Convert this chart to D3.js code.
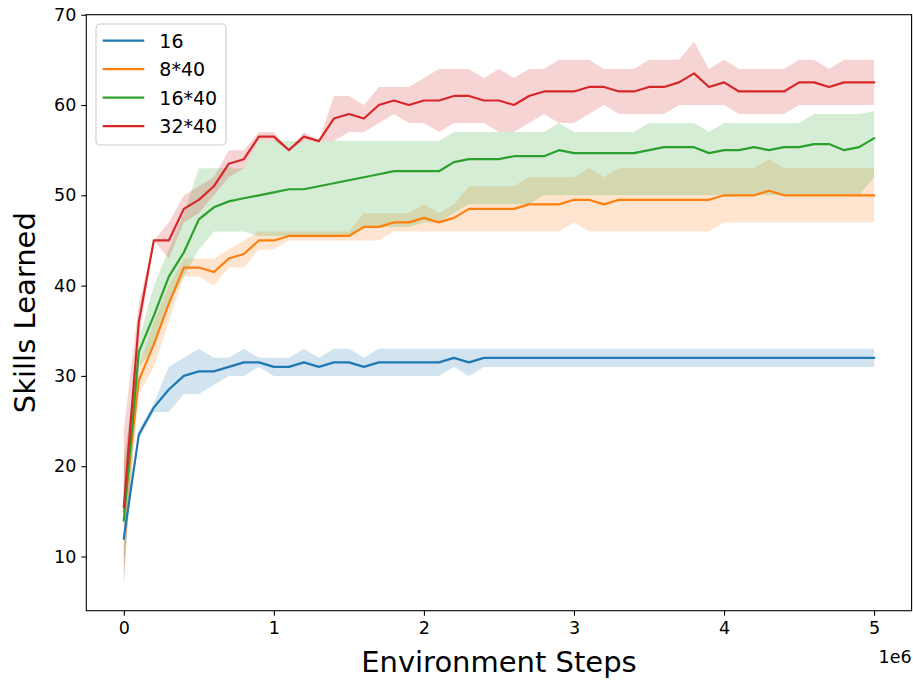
<!DOCTYPE html>
<html>
<head>
<meta charset="utf-8">
<script src="https://cdn.jsdelivr.net/npm/d3@7"></script>
<style>
  html, body { margin: 0; padding: 0; background: #fff; }
  svg { display: block; font-family: "DejaVu Sans", sans-serif; }
</style>
</head>
<body>
<svg id="chart" width="913" height="681"></svg>
<script>
// Environment steps (in millions, shown with a 1e6 offset)
const steps = [0, 0.1, 0.2, 0.3, 0.4, 0.5, 0.6, 0.7, 0.8, 0.9,
  1.0, 1.1, 1.2, 1.3, 1.4, 1.5, 1.6, 1.7, 1.8, 1.9,
  2.0, 2.1, 2.2, 2.3, 2.4, 2.5, 2.6, 2.7, 2.8, 2.9,
  3.0, 3.1, 3.2, 3.3, 3.4, 3.5, 3.6, 3.7, 3.8, 3.9,
  4.0, 4.1, 4.2, 4.3, 4.4, 4.5, 4.6, 4.7, 4.8, 4.9, 5.0];

const seriesNames = ["16", "8*40", "16*40", "32*40"];
const seriesColors = ["#1f77b4", "#ff7f0e", "#2ca02c", "#d62728"];

// "16"
const mean16 = [12, 23.5, 26.5, 28.5, 30, 30.5, 30.5, 31, 31.5, 31.5,
  31, 31, 31.5, 31, 31.5, 31.5, 31, 31.5, 31.5, 31.5,
  31.5, 31.5, 32, 31.5, 32, 32, 32, 32, 32, 32,
  32, 32, 32, 32, 32, 32, 32, 32, 32, 32,
  32, 32, 32, 32, 32, 32, 32, 32, 32, 32, 32];
const low16 = [12, 23, 26, 26, 28, 28, 29, 30, 30, 31,
  30, 30, 30, 30, 30, 30, 30, 30, 30, 30,
  30, 30, 31, 30, 31, 31, 31, 31, 31, 31,
  31, 31, 31, 31, 31, 31, 31, 31, 31, 31,
  31, 31, 31, 31, 31, 31, 31, 31, 31, 31, 31];
const high16 = [12, 24, 27, 31, 32, 33, 32, 32, 33, 32,
  32, 32, 33, 32, 33, 33, 32, 33, 33, 33,
  33, 33, 33, 33, 33, 33, 33, 33, 33, 33,
  33, 33, 33, 33, 33, 33, 33, 33, 33, 33,
  33, 33, 33, 33, 33, 33, 33, 33, 33, 33, 33];

// "8*40"
const mean8x40 = [15, 29.5, 33.5, 38, 42, 42, 41.5, 43, 43.5, 45,
  45, 45.5, 45.5, 45.5, 45.5, 45.5, 46.5, 46.5, 47, 47,
  47.5, 47, 47.5, 48.5, 48.5, 48.5, 48.5, 49, 49, 49,
  49.5, 49.5, 49, 49.5, 49.5, 49.5, 49.5, 49.5, 49.5, 49.5,
  50, 50, 50, 50.5, 50, 50, 50, 50, 50, 50, 50];
const low8x40 = [9, 28, 31, 36, 41, 41, 40, 42, 42, 44,
  44, 45, 45, 45, 45, 45, 45, 45, 46, 46,
  46, 46, 46, 46, 46, 46, 46, 46, 46, 46,
  47, 46, 46, 46, 46, 46, 46, 46, 46, 46,
  47, 47, 47, 47, 47, 47, 47, 47, 47, 47, 47];
const high8x40 = [21, 31, 36, 40, 43, 43, 43, 44, 45, 46,
  46, 46, 46, 46, 46, 46, 48, 48, 48, 48,
  49, 48, 49, 51, 51, 51, 51, 52, 52, 52,
  52, 53, 52, 53, 53, 53, 53, 53, 53, 53,
  53, 53, 53, 54, 53, 53, 53, 53, 53, 53, 53];

// "16*40"
const mean16x40 = [14, 32.67, 36.67, 41, 43.67, 47.33, 48.67, 49.33, 49.67, 50,
  50.33, 50.67, 50.67, 51, 51.33, 51.67, 52, 52.33, 52.67, 52.67,
  52.67, 52.67, 53.67, 54, 54, 54, 54.33, 54.33, 54.33, 55,
  54.67, 54.67, 54.67, 54.67, 54.67, 55, 55.33, 55.33, 55.33, 54.67,
  55, 55, 55.33, 55, 55.33, 55.33, 55.67, 55.67, 55, 55.33, 56.33];
const low16x40 = [7, 31, 33, 38, 41, 44, 46, 46, 46, 45.5,
  45.5, 45.5, 45.5, 45.5, 45.5, 45.5, 46.5, 46.5, 46.5, 46.5,
  47, 47, 48, 49, 49, 49, 49, 49, 50, 50,
  50, 50, 50, 50, 50, 50, 50, 50, 50, 50,
  50, 50, 50, 50, 50, 50, 50, 50, 50, 50, 52];
const high16x40 = [20, 34, 40, 44, 48, 53, 53, 53, 53, 56,
  56, 56, 56, 56, 56, 56, 56, 56, 56, 56,
  56, 56, 57, 57, 57, 57, 57, 57, 57, 58,
  57, 57, 57, 57, 57, 58, 58, 58, 58, 57,
  58, 58, 58, 58, 58, 58, 59, 59, 59, 59, 59.3];

// "32*40"
const mean32x40 = [15.5, 36, 45, 45, 48.5, 49.5, 51, 53.5, 54, 56.5,
  56.5, 55, 56.5, 56, 58.5, 59, 58.5, 60, 60.5, 60,
  60.5, 60.5, 61, 61, 60.5, 60.5, 60, 61, 61.5, 61.5,
  61.5, 62, 62, 61.5, 61.5, 62, 62, 62.5, 63.5, 62,
  62.5, 61.5, 61.5, 61.5, 61.5, 62.5, 62.5, 62, 62.5, 62.5, 62.5];
const low32x40 = [7, 34, 45, 43, 47, 48, 50, 52, 53, 56,
  56, 55, 56, 56, 56, 57, 57, 58, 59, 58,
  58, 57, 58, 58, 58, 57, 57, 58, 59, 58,
  58, 59, 60, 59, 59, 59, 59, 60, 60, 60,
  60, 59, 59, 59, 59, 60, 60, 60, 60, 60, 60];
const high32x40 = [24, 38, 45, 47, 50, 51, 52, 55, 55, 57,
  57, 55, 57, 56, 61, 61, 60, 62, 62, 62,
  63, 64, 64, 64, 63, 64, 63, 64, 64, 65,
  65, 65, 64, 64, 64, 65, 65, 65, 67, 64,
  65, 64, 64, 64, 64, 65, 65, 64, 65, 65, 65];

const xTicks = [0, 1, 2, 3, 4, 5];
const yTicks = [10, 20, 30, 40, 50, 60, 70];
const xLabel = "Environment Steps";
const yLabel = "Skills Learned";
const xOffsetLabel = "1e6";

const series = [
  { name: seriesNames[0], color: seriesColors[0], mean: mean16, low: low16, high: high16 },
  { name: seriesNames[1], color: seriesColors[1], mean: mean8x40, low: low8x40, high: high8x40 },
  { name: seriesNames[2], color: seriesColors[2], mean: mean16x40, low: low16x40, high: high16x40 },
  { name: seriesNames[3], color: seriesColors[3], mean: mean32x40, low: low32x40, high: high32x40 }
];

// Plot geometry
const plot = { left: 86.3, right: 911.6, top: 14.7, bottom: 610.7 };

const x = d3.scaleLinear().domain([-0.25, 5.25]).range([plot.left, plot.right]);
const y = d3.scaleLinear().domain([4, 70]).range([plot.bottom, plot.top]);

const svg = d3.select("#chart");

svg.append("defs").append("clipPath").attr("id", "plot-clip")
  .append("rect")
  .attr("x", plot.left).attr("y", plot.top)
  .attr("width", plot.right - plot.left).attr("height", plot.bottom - plot.top);

const plotArea = svg.append("g").attr("clip-path", "url(#plot-clip)");

// Shaded ranges first, then all lines above them
const area = d3.area()
  .x((d, i) => x(steps[i]))
  .y0(d => y(d[0]))
  .y1(d => y(d[1]));

series.forEach(s => {
  const pts = s.low.map((lo, i) => [lo, s.high[i]]);
  plotArea.append("path")
    .datum(pts)
    .attr("d", area)
    .attr("fill", s.color)
    .attr("fill-opacity", 0.2)
    .attr("stroke", "none");
});

const line = d3.line()
  .x((d, i) => x(steps[i]))
  .y(d => y(d));

series.forEach(s => {
  plotArea.append("path")
    .datum(s.mean)
    .attr("d", line)
    .attr("fill", "none")
    .attr("stroke", s.color)
    .attr("stroke-width", 2.2)
    .attr("stroke-linejoin", "round")
    .attr("stroke-linecap", "square");
});

// Axes
const tickFont = 17.5;

const xAxis = d3.axisBottom(x)
  .tickValues(xTicks)
  .tickFormat(d3.format("d"))
  .tickSize(5)
  .tickPadding(6);

const xg = svg.append("g")
  .attr("transform", `translate(0,${plot.bottom})`)
  .call(xAxis);
xg.select(".domain").remove();
xg.selectAll(".tick line").attr("stroke", "#000").attr("stroke-width", 1.1);
xg.selectAll(".tick text")
  .attr("fill", "#000")
  .style("font-size", tickFont + "px")
  .style("font-family", "DejaVu Sans, sans-serif");

const yAxis = d3.axisLeft(y)
  .tickValues(yTicks)
  .tickFormat(d3.format("d"))
  .tickSize(5)
  .tickPadding(5);

const yg = svg.append("g")
  .attr("transform", `translate(${plot.left},0)`)
  .call(yAxis);
yg.select(".domain").remove();
yg.selectAll(".tick line").attr("stroke", "#000").attr("stroke-width", 1.1);
yg.selectAll(".tick text")
  .attr("fill", "#000")
  .style("font-size", tickFont + "px")
  .style("font-family", "DejaVu Sans, sans-serif");

// Frame
svg.append("rect")
  .attr("x", plot.left).attr("y", plot.top)
  .attr("width", plot.right - plot.left).attr("height", plot.bottom - plot.top)
  .attr("fill", "none")
  .attr("stroke", "#000")
  .attr("stroke-width", 1.1);

// Offset text for the x axis
svg.append("text")
  .attr("x", plot.right)
  .attr("y", 663)
  .attr("text-anchor", "end")
  .style("font-size", tickFont + "px")
  .text(xOffsetLabel);

// Axis titles
svg.append("text")
  .attr("x", (plot.left + plot.right) / 2)
  .attr("y", 672)
  .attr("text-anchor", "middle")
  .style("font-size", "29px")
  .text(xLabel);

svg.append("text")
  .attr("transform", `translate(35,${(plot.top + plot.bottom) / 2}) rotate(-90)`)
  .attr("text-anchor", "middle")
  .style("font-size", "29px")
  .text(yLabel);

// Legend
const legend = svg.append("g");
legend.append("rect")
  .attr("x", 96).attr("y", 24)
  .attr("width", 130).attr("height", 121)
  .attr("rx", 4).attr("ry", 4)
  .attr("fill", "#fff").attr("fill-opacity", 0.8)
  .attr("stroke", "#cccccc").attr("stroke-width", 1.1);

series.forEach((s, k) => {
  const cy = 40.7 + k * 28.5;
  legend.append("line")
    .attr("x1", 102.7).attr("x2", 144.3)
    .attr("y1", cy).attr("y2", cy)
    .attr("stroke", s.color)
    .attr("stroke-width", 2.2);
  legend.append("text")
    .attr("x", 159.3)
    .attr("y", cy + 7)
    .style("font-size", "19px")
    .text(s.name);
});
</script>
</body>
</html>
